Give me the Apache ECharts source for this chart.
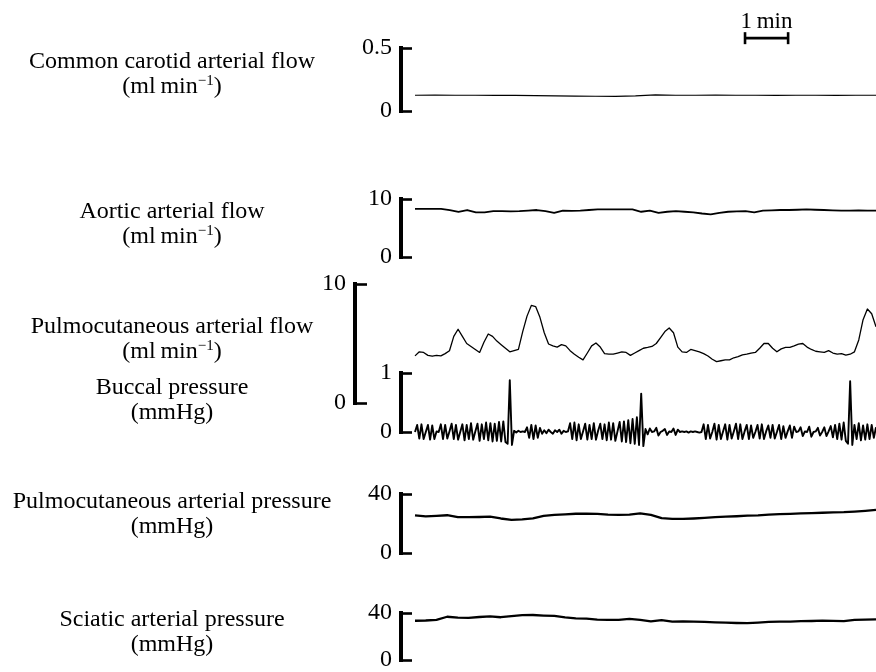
<!DOCTYPE html>
<html>
<head>
<meta charset="utf-8">
<script src="https://cdn.jsdelivr.net/npm/echarts@6/dist/echarts.min.js"></script>
<style>
  html, body { margin: 0; padding: 0; background: #fff; }
  #chart { width: 876px; height: 672px; }
</style>
</head>
<body>
<div id="chart"></div>
<script>
// time span of every trace (min), the 1 min bar sets the scale
const T_END = 10.7;

// trace names and units
const traceNames = [
  "Common carotid arterial flow",
  "Aortic arterial flow",
  "Pulmocutaneous arterial flow",
  "Buccal pressure",
  "Pulmocutaneous arterial pressure",
  "Sciatic arterial pressure",
];
const traceUnits = ["flow", "flow", "flow", "mmHg", "mmHg", "mmHg"];
// scale bar tops (bottoms are 0)
const scaleMax = [0.5, 10, 10, 1, 40, 40];

// sampled values, evenly spaced over T_END
const carotidFlow = [
  0.125, 0.126, 0.125, 0.125, 0.124, 0.124, 0.122, 0.12, 0.118, 0.117, 0.116, 0.12,
  0.128, 0.125, 0.125, 0.126, 0.125, 0.125, 0.124, 0.125, 0.125, 0.124, 0.125, 0.125,
];
const aorticFlow = [
  8.3, 8.3, 8.3, 8.3, 8.1, 7.8, 8.1, 7.7, 7.7, 7.9, 7.9, 7.85, 7.9, 8.0, 8.1, 7.9, 7.6, 8.0,
  7.95, 8.0, 8.1, 8.2, 8.2, 8.2, 8.2, 8.2, 7.8, 8.0, 7.6, 7.8, 7.9, 7.8, 7.7, 7.5, 7.35, 7.6,
  7.8, 7.85, 7.9, 7.7, 8.0, 8.05, 8.1, 8.1, 8.15, 8.2, 8.15, 8.1, 8.05, 8.0, 8.0, 8.05, 8.0, 8.0,
];
const pulmFlow = [
  3.96, 4.3, 4.25, 4.0, 3.93, 4.0, 3.96, 4.15, 4.39, 5.6, 6.2, 5.6, 5.0, 4.75, 4.5, 4.25, 5.1, 5.8,
  5.6, 5.2, 4.9, 4.6, 4.3, 4.4, 4.5, 6.0, 7.3, 8.2, 8.1, 7.2, 5.9, 4.96, 4.8, 4.7, 4.9, 4.8,
  4.4, 4.1, 3.85, 3.62, 4.2, 4.8, 5.04, 4.7, 4.15, 4.1, 4.1, 4.2, 4.3, 4.25, 4.0, 4.2, 4.4, 4.6,
  4.67, 4.75, 5.0, 5.5, 6.0, 6.3, 5.9, 4.7, 4.3, 4.25, 4.5, 4.4, 4.3, 4.15, 3.95, 3.68, 3.48, 3.55,
  3.62, 3.62, 3.8, 3.9, 4.05, 4.1, 4.2, 4.25, 4.6, 5.0, 5.0, 4.6, 4.3, 4.55, 4.67, 4.67, 4.8, 4.95,
  5.0, 4.7, 4.5, 4.35, 4.3, 4.25, 4.4, 4.2, 4.1, 4.15, 4.02, 4.1, 4.3, 5.3, 7.0, 7.9, 7.5, 6.4,
];
const buccalPressure = [
  0, 0.12, -0.11, 0.13, -0.12, 0, 0.12, -0.13, 0.11, -0.12,
  0.01, 0, 0.13, -0.12, 0.12, -0.11, 0.01, 0.14, -0.12, 0.12,
  -0.13, 0, 0.13, -0.14, 0.12, -0.12, 0.15, -0.13, 0.01, 0.14,
  -0.15, 0.13, -0.12, 0.16, -0.14, 0.15, -0.16, 0.14, -0.15, 0.17,
  -0.16, 0.18, -0.17, -0.2,
  0.88, -0.22,
  0.02, -0.01, 0.02, 0, 0.01, 0,
  0.08, -0.1, 0.12, -0.12, 0.11, -0.1, 0.07, -0.03,
  0.03, -0.02, 0.04, 0, -0.03, 0.03, 0, 0.04, -0.03, 0.02, 0, 0.01,
  0.15, -0.12, 0.16, -0.14, 0.13, -0.12, 0.01, 0.14, -0.13, 0.12,
  -0.12, 0.15, -0.13, 0.02, 0.14, -0.12, 0.13, -0.14, 0.16, -0.13,
  0.15, -0.15, 0.01, 0.17, -0.16, 0.18, -0.17, 0.2, -0.19, 0.22,
  -0.2, 0.25,
  -0.22, 0.65, -0.24,
  0.05, -0.04, 0.06, 0, 0.01, 0.07, -0.06, 0, 0.02, 0.05, -0.05, 0.01, 0, 0.06, -0.05, 0.04, 0, 0.01,
  0, 0.01, -0.01, 0.01, 0, 0.01, 0, -0.01, 0,
  0.13, -0.12, 0.12, -0.11, 0, 0.14, -0.13, 0.12, -0.12, 0.01,
  0.13, -0.13, 0.12, -0.11, 0.01, 0.14, -0.12, 0.13, -0.12, 0.01,
  0.12, -0.12, 0.11, -0.1, 0, 0.12, -0.11, 0.13, -0.12, 0.01,
  0.11, -0.1, 0.12, -0.11, 0, 0.12, -0.12, 0.1, -0.1, 0.01,
  0.11, -0.1, 0.09, 0,
  0.01, 0.08, -0.07, 0.01, 0, 0.09, -0.08, 0, 0.01, 0.07, -0.06, 0, 0.08, -0.07, 0.01, 0.1, -0.09, 0.12, -0.12,
  0.14, -0.13, 0.16, -0.15, -0.2,
  0.86, -0.22,
  0.12, -0.12, 0.15, -0.14, 0.11, -0.13, 0.13, -0.12, 0.12, -0.1, 0.08,
];
const pulmPressure = [
  25.5, 24.8, 25.2, 25.6, 24.3, 24.3, 24.4, 24.6, 23.4, 22.5, 22.8, 23.5, 25.2, 25.9, 26.2,
  26.6, 26.7, 26.5, 26.0, 25.9, 26.0, 26.8, 25.8, 23.6, 23.1, 23.1, 23.4, 23.8, 24.3, 24.6,
  24.9, 25.3, 25.5, 26.0, 26.3, 26.5, 26.8, 27.1, 27.3, 27.5, 27.7, 28.1, 28.6, 29.2,
];
const sciaticPressure = [
  33.4, 33.6, 34.2, 36.8, 36.0, 35.9, 36.6, 37.1, 36.4, 37.3, 38.2, 38.3, 37.8, 37.5, 36.2,
  35.5, 35.2, 34.3, 34.2, 34.1, 35.0, 34.2, 32.8, 34.0, 32.6, 32.9, 32.7, 32.4, 32.0, 31.8,
  31.5, 31.3, 31.8, 32.4, 32.6, 32.6, 33.0, 33.2, 33.5, 33.3, 33.0, 34.2, 34.4, 34.6,
];
const traces = [carotidFlow, aorticFlow, pulmFlow, buccalPressure, pulmPressure, sciaticPressure];

// 1 min time bar (min) and its level on the top panel scale
const timeBar = [7.66, 8.66];
const timeBarLevel = 0.578;

// layout of each panel (px)
const layout = [
  { top: 48, height: 63, offset: 14, tick: 11, line: 1.2, labelY: 74 },
  { top: 199, height: 58, offset: 14, tick: 11, line: 1.8, labelY: 224 },
  { top: 284, height: 119, offset: 60, tick: 12, line: 1.3, labelY: 339 },
  { top: 373, height: 59, offset: 14, tick: 11, line: 1.9, labelY: 400 },
  { top: 494, height: 59, offset: 14, tick: 11, line: 2.3, labelY: 514 },
  { top: 613, height: 56, offset: 14, tick: 11, line: 2.3, labelY: 632 },
];
const FONT = "'Liberation Serif', 'DejaVu Serif', serif";

function timed(vals) {
  const step = T_END / (vals.length - 1);
  return vals.map((v, i) => [i * step, v]);
}

function unitText(unit) {
  if (unit === "flow") return "{n|(ml\u2009min}{s|\u22121}{n|)}";
  return "{n|(mmHg)}";
}

const chart = echarts.init(document.getElementById("chart"), null, { renderer: "canvas" });

const option = {
  animation: false,
  backgroundColor: "#fff",
  grid: layout.map((p) => ({ left: 415, right: 0, top: p.top, height: p.height })),
  xAxis: layout.map((p, i) => ({
    type: "value",
    gridIndex: i,
    min: 0,
    max: T_END,
    show: false,
  })),
  yAxis: layout.map((p, i) => ({
    type: "value",
    gridIndex: i,
    min: 0,
    max: scaleMax[i],
    interval: scaleMax[i],
    offset: p.offset,
    axisLine: { show: true, onZero: false, lineStyle: { color: "#000", width: 4, cap: "square" } },
    axisTick: { show: true, inside: true, length: p.tick, lineStyle: { color: "#000", width: 2.6 } },
    axisLabel: {
      color: "#000",
      fontFamily: FONT,
      fontSize: 24,
      margin: 9,
      showMinLabel: true,
      showMaxLabel: true,
    },
    splitLine: { show: false },
  })),
  series: traces
    .map((vals, i) => ({
      name: traceNames[i],
      type: "line",
      xAxisIndex: i,
      yAxisIndex: i,
      data: timed(vals),
      showSymbol: false,
      clip: false,
      silent: true,
      lineStyle: { color: "#000", width: layout[i].line, join: "round" },
    }))
    .concat([
      {
        name: "1 min",
        type: "line",
        xAxisIndex: 0,
        yAxisIndex: 0,
        data: timeBar.map((t) => [t, timeBarLevel]),
        symbol: "rect",
        symbolSize: [2.6, 12],
        showSymbol: true,
        clip: false,
        silent: true,
        itemStyle: { color: "#000" },
        lineStyle: { color: "#000", width: 2.6 },
      },
    ]),
  graphic: layout.map((p, i) => ({
    type: "text",
    id: "label" + i,
    silent: true,
    style: {
      x: 172,
      y: p.labelY,
      align: "center",
      verticalAlign: "middle",
      text: "{n|" + traceNames[i] + "}\n" + unitText(traceUnits[i]),
      rich: {
        n: { fontFamily: FONT, fontSize: 24, lineHeight: 25, fill: "#000" },
        s: { fontFamily: FONT, fontSize: 15, lineHeight: 25, fill: "#000", verticalAlign: "top" },
      },
    },
  })),
};

chart.setOption(option);

// "1 min" caption above the middle of the time bar
const barMid = chart.convertToPixel({ gridIndex: 0 }, [(timeBar[0] + timeBar[1]) / 2, timeBarLevel]);
chart.setOption({
  graphic: [
    {
      type: "text",
      id: "timeCaption",
      silent: true,
      style: {
        x: barMid[0],
        y: barMid[1] - 5,
        align: "center",
        verticalAlign: "bottom",
        text: "1\u2009min",
        fontFamily: FONT,
        fontSize: 23,
        fill: "#000",
      },
    },
  ],
});
</script>
</body>
</html>
